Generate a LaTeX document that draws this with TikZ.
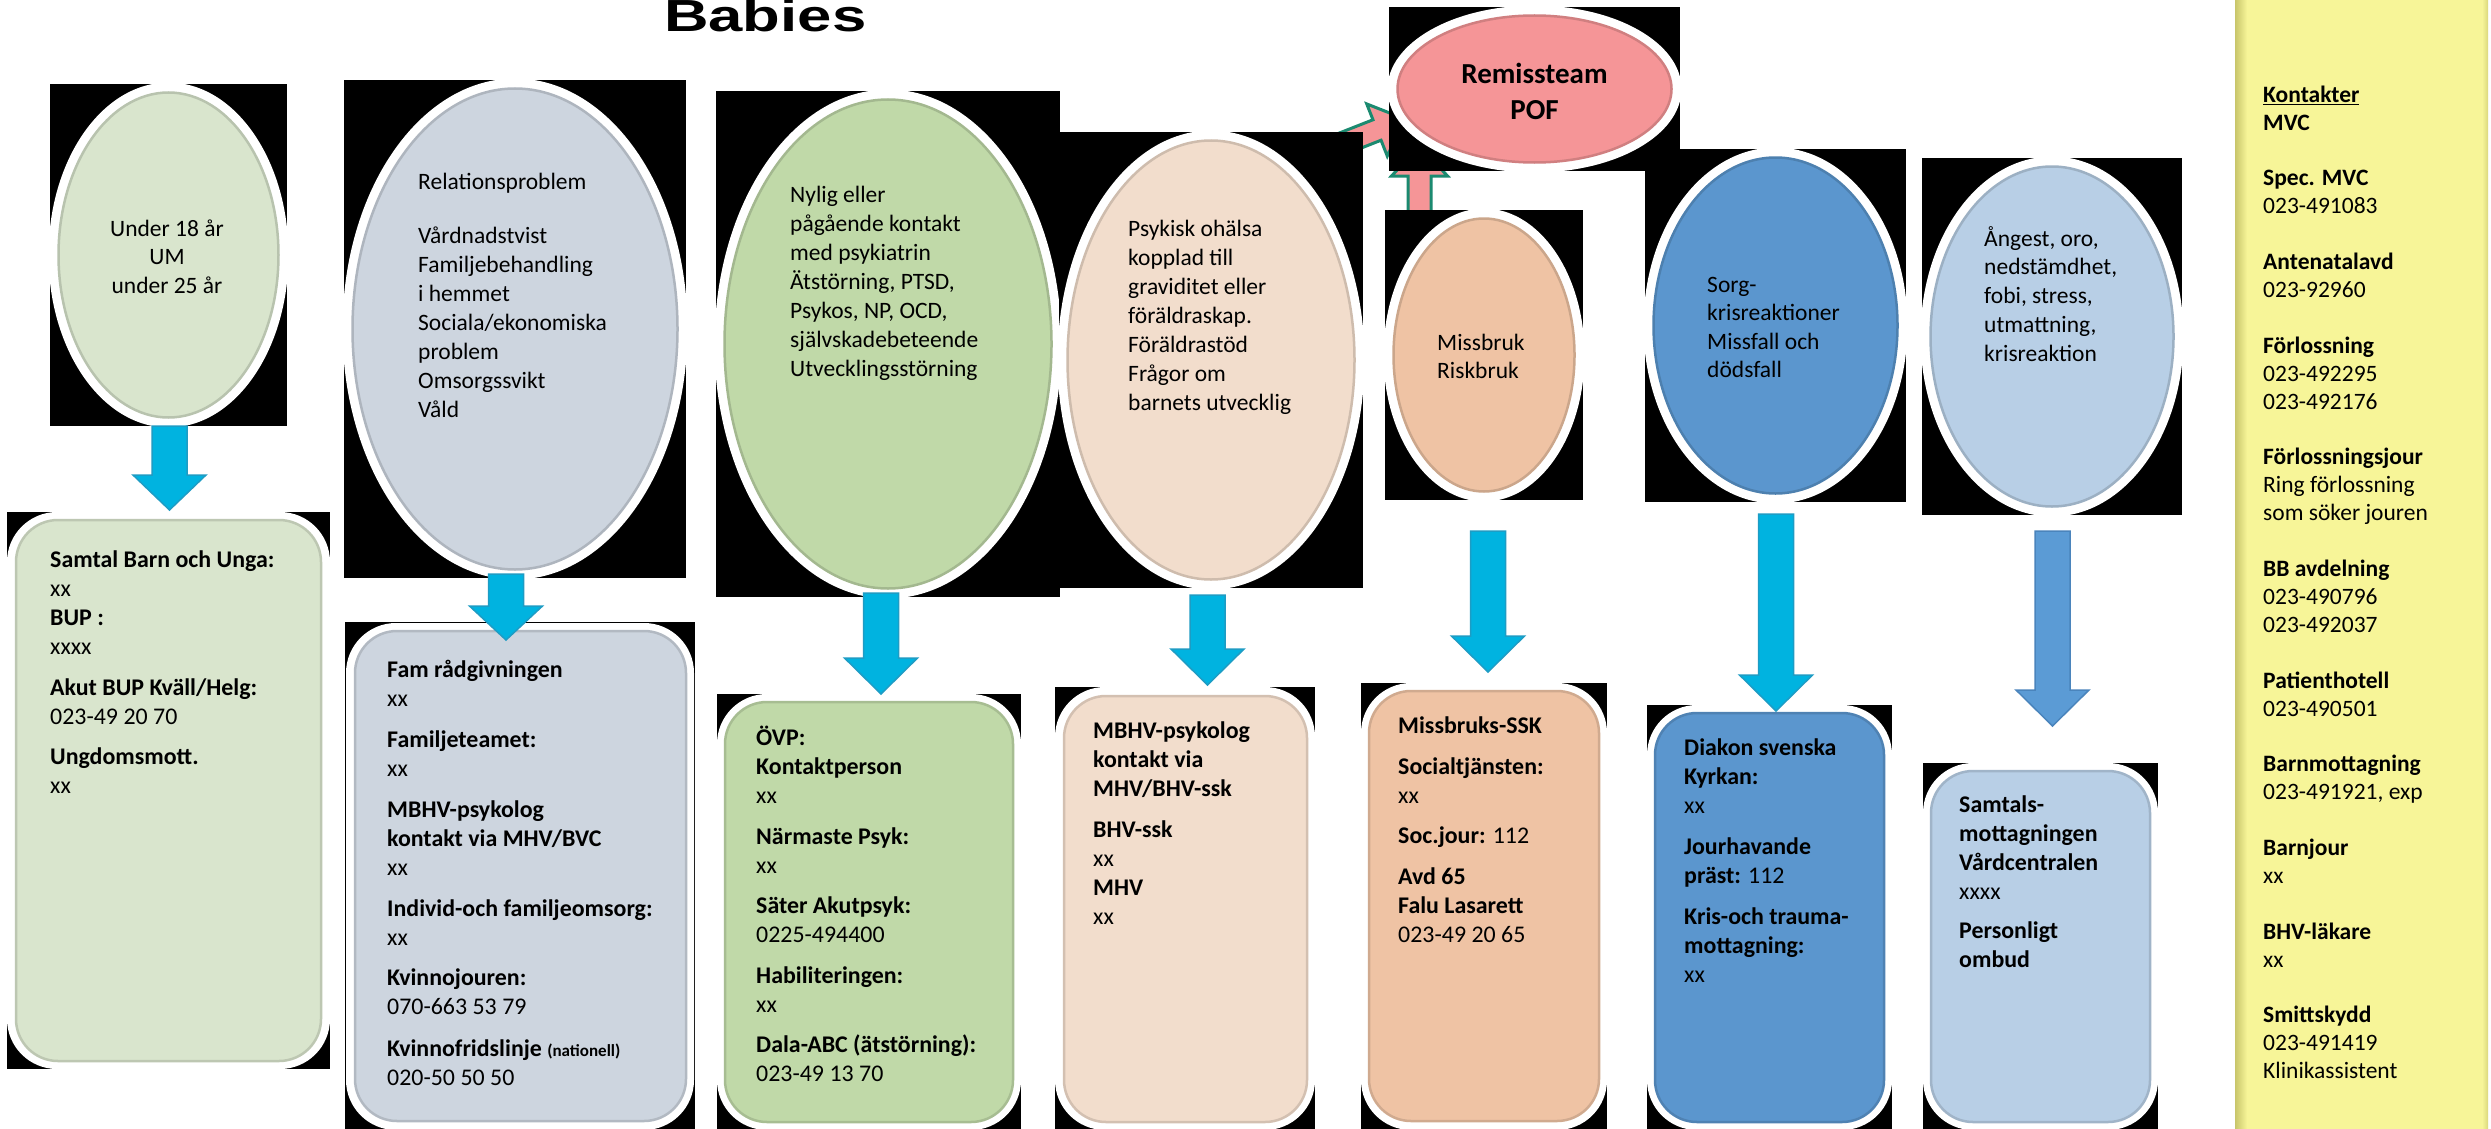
\documentclass[tikz,border=0pt]{standalone}
\usepackage{fontspec}
\setmainfont{Carlito}
\newfontfamily\titlefont{Liberation Sans}
\usetikzlibrary{shapes.geometric}
\definecolor{cA}{HTML}{D9E5CD}
\definecolor{cB}{HTML}{CDD5DF}
\definecolor{cC}{HTML}{C0D9A8}
\definecolor{cD}{HTML}{F2DDCC}
\definecolor{cR}{HTML}{F59597}
\definecolor{cE}{HTML}{EFC3A4}
\definecolor{cF}{HTML}{5B96CE}
\definecolor{cG}{HTML}{B8CFE6}
\definecolor{cY}{HTML}{F7F598}
\definecolor{cYd}{HTML}{C8C56A}
\definecolor{cyanA}{HTML}{00B3E0}
\definecolor{cyanB}{HTML}{1E9CC4}
\definecolor{steelA}{HTML}{5B9BD5}
\definecolor{steelB}{HTML}{4A84BC}
\definecolor{tealA}{HTML}{1B8A70}
\tikzset{
  txt/.style={anchor=north west, inner sep=0pt, align=left, font=\fontsize{23.5}{29}\selectfont},
  boxtxt/.style={txt, font=\fontsize{23.9}{29}\selectfont},
  pinkarrow/.style={fill=cR, draw=tealA, line width=3pt, line join=miter},
  cyanarrow/.style={fill=cyanA, draw=cyanB, line width=1.5pt, line join=miter},
  steelarrow/.style={fill=steelA, draw=steelB, line width=1.5pt, line join=miter},
  boxfill/.style={fill=#1, draw=#1!87!black, line width=2.5pt, rounded corners=42pt},
  boxwhite/.style={fill=white, rounded corners=50pt},
}
\newcommand\firststrut{\rule{0pt}{22pt}}
% name, cx, cy, rx, ry, colour
\newcommand\shapeell[6]{%
  \node[rectangle, fill=black, inner sep=0pt, minimum width={2*#4}, minimum height={2*#5}] (#1bg) at (#2,#3) {};
  \node[ellipse, fill=white, inner sep=0pt, minimum width={2*#4+3}, minimum height={2*#5+3}] (#1w) at (#2,#3) {};
  \node[ellipse, fill=#6, draw=#6!85!black, line width=2.5pt, inner sep=0pt, minimum width={2*#4-17}, minimum height={2*#5-17}] (#1) at (#2,#3) {};
}
% style, cx, ytop, yhead, ytip
\newcommand\blkarrow[5]{%
  \filldraw[#1] ({#2-17.5},#3) -- ({#2+17.5},#3) -- ({#2+17.5},#4) -- ({#2+36.5},#4) -- (#2,#5) -- ({#2-36.5},#4) -- ({#2-17.5},#4) -- cycle;
}
\begin{document}
\begin{tikzpicture}[x=1pt,y=-1pt]
\useasboundingbox (0,0) rectangle (2491,1129);
\clip (0,0) rectangle (2491,1129);
\fill[white] (0,0) rectangle (2491,1129);

% title
\node[anchor=base west, inner sep=0pt, font=\titlefont\bfseries\fontsize{45}{50}\selectfont] (title) at (664,32) {\scalebox{1.37}[1]{Babies}};

% pink arrows (behind shapes)
\begin{scope}[shift={(1377,130)}, rotate=21.5]
  \filldraw[pinkarrow] (-90,-11) -- (0,-11) -- (0,-28) -- (30,0) -- (0,28) -- (0,11) -- (-90,11) -- cycle;
\end{scope}
\filldraw[pinkarrow] (1408,245) -- (1408,176) -- (1391.5,176) -- (1419.5,146) -- (1447.5,176) -- (1431,176) -- (1431,245) -- cycle;

% ellipses
\shapeell{e1}{168.5}{255}{118.5}{171}{cA}
\shapeell{e2}{515}{329}{171}{249}{cB}
\shapeell{e3}{888}{344}{172}{253}{cC}
\shapeell{e4}{1211}{360}{152}{228}{cD}
\shapeell{rem}{1534.5}{89}{145.5}{82}{cR}
\shapeell{e5}{1484}{355}{99}{145}{cE}
\shapeell{e6}{1775.5}{325.5}{130.5}{176.5}{cF}
\shapeell{e7}{2052}{336.5}{130}{178.5}{cG}

% boxes
\fill[black] (7,512) rectangle (330,1069);
\fill[boxwhite] (7,512) rectangle (330,1069);
\filldraw[boxfill=cA] (16,520) rectangle (321,1061);

\fill[black] (345,622) rectangle (695,1129);
\fill[boxwhite] (346,623) rectangle (694,1130);
\filldraw[boxfill=cB] (355,631) rectangle (686,1121);

\fill[black] (717,694) rectangle (1021,1129);
\fill[boxwhite] (717,694) rectangle (1021,1130);
\filldraw[boxfill=cC] (725,702) rectangle (1013,1122);

\fill[black] (1055,687) rectangle (1315,1129);
\fill[boxwhite] (1055,687) rectangle (1315,1130);
\filldraw[boxfill=cD] (1064,696) rectangle (1307,1122);

\fill[black] (1361,683) rectangle (1607,1129);
\fill[boxwhite] (1361,683) rectangle (1607,1130);
\filldraw[boxfill=cE] (1369,691) rectangle (1599,1121);

\fill[black] (1647,705) rectangle (1892,1129);
\fill[boxwhite] (1647,705) rectangle (1892,1130);
\filldraw[boxfill=cF] (1655,713) rectangle (1884,1122);

\fill[black] (1923,763) rectangle (2158,1129);
\fill[boxwhite] (1923,763) rectangle (2158,1130);
\filldraw[boxfill=cG] (1931,771) rectangle (2150,1122);

% down arrows
\blkarrow{cyanarrow}{169.5}{426}{475}{510}
\blkarrow{cyanarrow}{506}{574}{606}{640}
\blkarrow{cyanarrow}{881}{593}{658}{694}
\blkarrow{cyanarrow}{1207.5}{595}{649}{685}
\blkarrow{cyanarrow}{1488}{531}{636}{672}
\blkarrow{cyanarrow}{1776}{514}{675}{711}
\blkarrow{steelarrow}{2052.5}{531}{690}{726}

% sidebar
\fill[cY] (2235,0) rectangle (2488,1129);
\shade[left color=cYd, right color=cY] (2235,0) rectangle (2247,1129);
\shade[left color=cY, right color=cYd!60!cY] (2482,0) rectangle (2488,1129);

% ellipse texts
\node[txt, anchor=north, align=center, font=\fontsize{23.5}{28.5}\selectfont] (t1) at (167,214) {\firststrut Under 18 år\\UM\\under 25 år};
\node[txt] (t2) at (418,167) {\firststrut Relationsproblem\\[25pt]Vårdnadstvist\\Familjebehandling\\i hemmet\\Sociala/ekonomiska\\problem\\Omsorgssvikt\\Våld};
\node[txt] (t3) at (790,180) {\firststrut Nylig eller\\pågående kontakt\\med psykiatrin\\Ätstörning, PTSD,\\Psykos, NP, OCD,\\självskadebeteende\\Utvecklingsstörning};
\node[txt] (t4) at (1128,214) {\firststrut Psykisk ohälsa\\kopplad till\\graviditet eller\\föräldraskap.\\Föräldrastöd\\Frågor om\\barnets utvecklig};
\node[txt, anchor=north, align=center, font=\bfseries\fontsize{29}{36}\selectfont] (trem) at (1534.5,57) {\rule{0pt}{26pt}Remissteam\\POF};
\node[txt, font=\fontsize{23.5}{28}\selectfont] (t5) at (1437,328) {\firststrut Missbruk\\Riskbruk};
\node[txt, font=\fontsize{23.5}{28.5}\selectfont] (t6) at (1707,270) {\firststrut Sorg-\\krisreaktioner\\Missfall och\\dödsfall};
\node[txt, font=\fontsize{23.5}{28.7}\selectfont] (t7) at (1984,224) {\firststrut Ångest, oro,\\nedstämdhet,\\fobi, stress,\\utmattning,\\krisreaktion};

% box texts
\node[boxtxt] (b1) at (50,545) {\firststrut\textbf{Samtal Barn och Unga:}\\xx\\\textbf{BUP :}\\xxxx\\[12pt]\textbf{Akut BUP Kväll/Helg:}\\023-49 20 70\\[11pt]\textbf{Ungdomsmott.}\\xx};
\node[boxtxt] (b2) at (387,655) {\firststrut\textbf{Fam rådgivningen}\\xx\\[12pt]\textbf{Familjeteamet:}\\xx\\[12pt]\textbf{MBHV-psykolog}\\\textbf{kontakt via MHV/BVC}\\xx\\[12pt]\textbf{Individ-och familjeomsorg:}\\xx\\[11pt]\textbf{Kvinnojouren:}\\070-663 53 79\\[13pt]\textbf{Kvinnofridslinje {\fontsize{17}{20}\selectfont (nationell)}}\\020-50 50 50};
\node[boxtxt] (b3) at (756,723) {\firststrut\textbf{ÖVP:}\\\textbf{Kontaktperson}\\xx\\[12pt]\textbf{Närmaste Psyk:}\\xx\\[11pt]\textbf{Säter Akutpsyk:}\\0225-494400\\[12pt]\textbf{Habiliteringen:}\\xx\\[11pt]\textbf{Dala-ABC (ätstörning):}\\023-49 13 70};
\node[boxtxt] (b4) at (1093,716) {\firststrut\textbf{MBHV-psykolog}\\\textbf{kontakt via}\\\textbf{MHV/BHV-ssk}\\[12pt]\textbf{BHV-ssk}\\xx\\\textbf{MHV}\\xx};
\node[boxtxt] (b5) at (1398,711) {\firststrut\textbf{Missbruks-SSK}\\[12pt]\textbf{Socialtjänsten:}\\xx\\[11pt]\textbf{Soc.jour:} 112\\[12pt]\textbf{Avd 65}\\\textbf{Falu Lasarett}\\023-49 20 65};
\node[boxtxt] (b6) at (1684,733) {\firststrut\textbf{Diakon svenska}\\\textbf{Kyrkan:}\\xx\\[12pt]\textbf{Jourhavande}\\\textbf{präst:} 112\\[12pt]\textbf{Kris-och trauma-}\\\textbf{mottagning:}\\xx};
\node[boxtxt] (b7) at (1959,790) {\firststrut\textbf{Samtals-}\\\textbf{mottagningen}\\\textbf{Vårdcentralen}\\xxxx\\[10pt]\textbf{Personligt}\\\textbf{ombud}};

% sidebar text
\node[txt, font=\fontsize{23.5}{27.9}\selectfont] (side) at (2263,80) {\firststrut\underline{\textbf{Kontakter}}\\\textbf{MVC}\\[27.9pt]%
\textbf{Spec. MVC}\\023-491083\\[27.9pt]%
\textbf{Antenatalavd}\\023-92960\\[27.9pt]%
\textbf{Förlossning}\\023-492295\\023-492176\\[27.9pt]%
\textbf{Förlossningsjour}\\Ring förlossning\\som söker jouren\\[27.9pt]%
\textbf{BB avdelning}\\023-490796\\023-492037\\[27.9pt]%
\textbf{Patienthotell}\\023-490501\\[27.9pt]%
\textbf{Barnmottagning}\\023-491921, exp\\[27.9pt]%
\textbf{Barnjour}\\xx\\[27.9pt]%
\textbf{BHV-läkare}\\xx\\[27.9pt]%
\textbf{Smittskydd}\\023-491419\\Klinikassistent};
\end{tikzpicture}
\end{document}
